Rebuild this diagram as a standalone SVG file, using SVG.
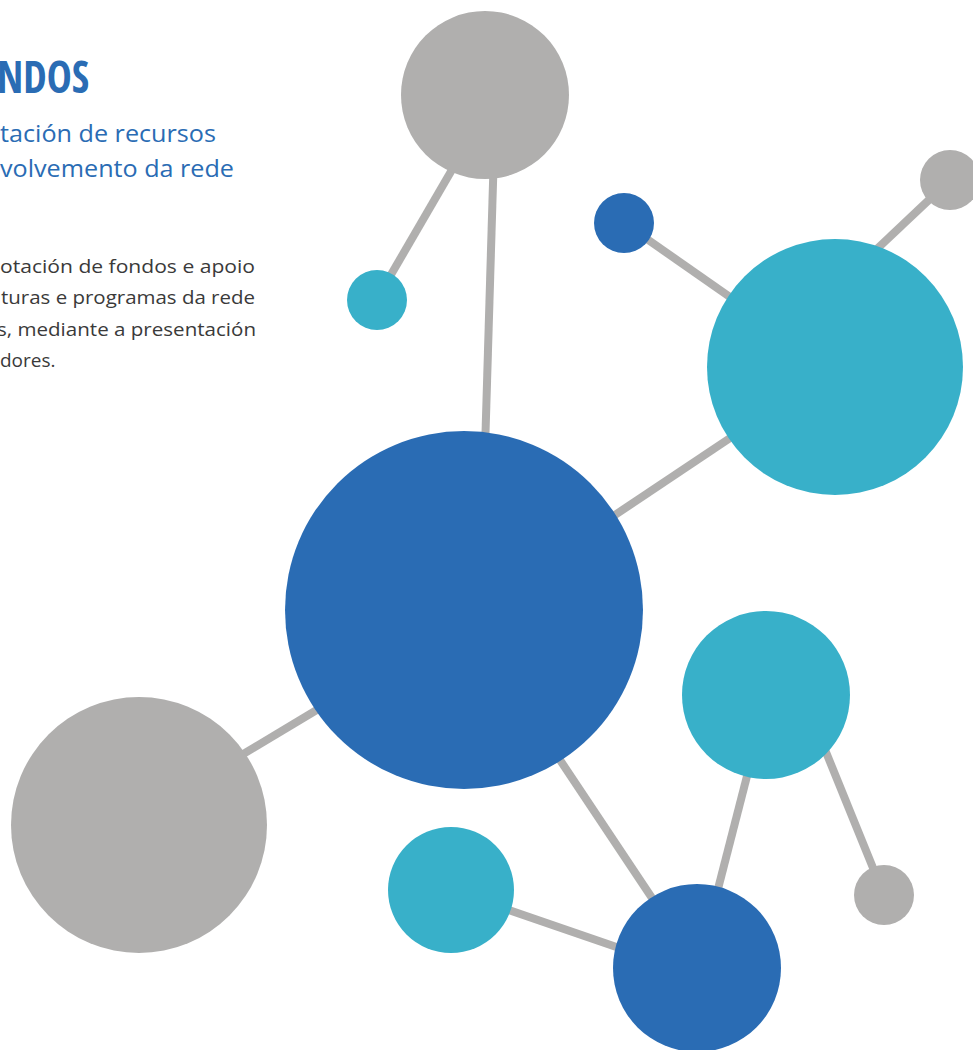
<svg xmlns="http://www.w3.org/2000/svg" width="973" height="1050" viewBox="0 0 973 1050">
<style>
.ln{stroke:#b0afae;stroke-width:8;fill:none}
.g{fill:#b0afae}.c{fill:#38b0c9}.b{fill:#2a6cb4}
.t{font-family:"Liberation Sans Narrow","Open Sans Condensed","Liberation Sans",sans-serif;font-weight:bold;fill:#2a6cb4}
.s{font-family:"Open Sans","Noto Sans",sans-serif;fill:#2a6cb4;font-size:23px}
.p{font-family:"Open Sans","Noto Sans",sans-serif;fill:#3a3a3a;font-size:19px}
</style>
<rect width="973" height="1050" fill="#ffffff"/>
<g id="text">
<text class="t" x="89" y="93" font-size="44" text-anchor="end" textLength="92" lengthAdjust="spacingAndGlyphs">NDOS</text>
<text class="s" x="0" y="142" textLength="216" lengthAdjust="spacingAndGlyphs">tación de recursos</text>
<text class="s" x="0" y="177" textLength="234" lengthAdjust="spacingAndGlyphs">volvemento da rede</text>
<text class="p" x="0" y="273" textLength="255" lengthAdjust="spacingAndGlyphs">otación de fondos e apoio</text>
<text class="p" x="1" y="304" textLength="254" lengthAdjust="spacingAndGlyphs">turas e programas da rede</text>
<text class="p" x="-3" y="336" textLength="259" lengthAdjust="spacingAndGlyphs">s, mediante a presentación</text>
<text class="p" x="0" y="367">dores.</text>
</g>
<g id="connectors">
<line class="ln" x1="453" y1="168" x2="385" y2="285"/>
<line class="ln" x1="494" y1="150" x2="485" y2="450"/>
<line class="ln" x1="624" y1="223" x2="760" y2="318"/>
<line class="ln" x1="950" y1="180" x2="860" y2="265"/>
<line class="ln" x1="600" y1="525" x2="760" y2="418"/>
<line class="ln" x1="230" y1="762" x2="330" y2="702"/>
<line class="ln" x1="550" y1="745" x2="670" y2="925"/>
<line class="ln" x1="755" y1="745" x2="710" y2="920"/>
<line class="ln" x1="815" y1="725" x2="884" y2="895"/>
<line class="ln" x1="480" y1="900" x2="660" y2="962"/>
</g>
<g id="n1"><circle class="g" cx="485" cy="95" r="84"/></g>
<g id="n2"><circle class="c" cx="377" cy="300" r="30"/></g>
<g id="n3"><circle class="b" cx="624" cy="223" r="30"/></g>
<g id="n4"><circle class="g" cx="950" cy="180" r="30"/></g>
<g id="n5"><circle class="c" cx="835" cy="367" r="128"/></g>
<g id="n6"><circle class="b" cx="464" cy="610" r="179"/></g>
<g id="n7"><circle class="g" cx="139" cy="825" r="128"/></g>
<g id="n8"><circle class="c" cx="766" cy="695" r="84"/></g>
<g id="n9"><circle class="g" cx="884" cy="895" r="30"/></g>
<g id="n10"><circle class="c" cx="451" cy="890" r="63"/></g>
<g id="n11"><circle class="b" cx="697" cy="968" r="84"/></g>
</svg>
